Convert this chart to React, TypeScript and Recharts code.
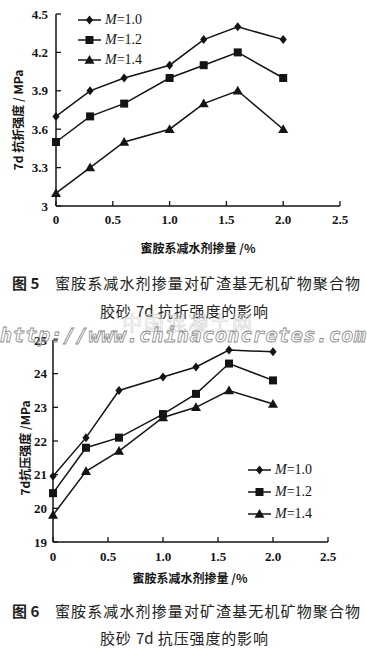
import React from "react";
import { LineChart, Line, XAxis, YAxis } from "recharts";

// dosage of melamine superplasticizer, %
const dosage = [0, 0.3, 0.6, 1.0, 1.3, 1.6, 2.0];

// Fig 5: 7d flexural strength, MPa
const flexM10 = [3.7, 3.9, 4.0, 4.1, 4.3, 4.4, 4.3];
const flexM12 = [3.5, 3.7, 3.8, 4.0, 4.1, 4.2, 4.0];
const flexM14 = [3.1, 3.3, 3.5, 3.6, 3.8, 3.9, 3.6];

// Fig 6: 7d compressive strength, MPa
const compM10 = [20.95, 22.1, 23.5, 23.9, 24.2, 24.7, 24.65];
const compM12 = [20.45, 21.8, 22.1, 22.8, 23.4, 24.3, 23.8];
const compM14 = [19.8, 21.1, 21.7, 22.7, 23.0, 23.5, 23.1];

const xTicks = [0, 0.5, 1.0, 1.5, 2.0, 2.5];
const flexTicks = [3, 3.3, 3.6, 3.9, 4.2, 4.5];
const compTicks = [19, 20, 21, 22, 23, 24, 25];
const seriesNames = ["1.0", "1.2", "1.4"];

const flexData = dosage.map((x, i) => ({ x, a: flexM10[i], b: flexM12[i], c: flexM14[i] }));
const compData = dosage.map((x, i) => ({ x, a: compM10[i], b: compM12[i], c: compM14[i] }));

const INK = "#141414";
const NUM_FONT = "'Liberation Serif', 'Times New Roman', serif";
const CJK_FONT = "'Noto Sans CJK SC', sans-serif";

const fmtX = (v: number) => (v === 0 ? "0" : v.toFixed(1));
const fmtFlex = (v: number) => (v === 3 ? "3" : v.toFixed(1));
const fmtComp = (v: number) => String(v);

// marker shapes
const Marker = ({ kind, cx, cy }: { kind: number; cx: number; cy: number }) => {
  if (kind === 0) {
    const r = 4.5;
    return <path d={`M${cx},${cy - r}L${cx + r * 0.8},${cy}L${cx},${cy + r}L${cx - r * 0.8},${cy}Z`} fill={INK} />;
  }
  if (kind === 1) {
    const s = 4;
    return <rect x={cx - s} y={cy - s} width={s * 2} height={s * 2} fill={INK} />;
  }
  const t = 5;
  return <path d={`M${cx},${cy - t}L${cx + t},${cy + t * 0.75}L${cx - t},${cy + t * 0.75}Z`} fill={INK} />;
};

const dotFor = (kind: number) => (p: any) =>
  <Marker key={`m-${kind}-${p.index}`} kind={kind} cx={p.cx} cy={p.cy} />;

const makeXTick = (m: number, fmt: (v: number) => string) => (p: any) => (
  <g key={`xt-${p.payload.value}`}>
    <line x1={p.x} x2={p.x} y1={p.y - m} y2={p.y - m - 5} stroke={INK} strokeWidth={1.3} />
    <text x={p.x} y={p.y} dy="0.71em" textAnchor="middle" fontFamily={NUM_FONT} fontSize={13} fontWeight={700} fill={INK}>
      {fmt(p.payload.value)}
    </text>
  </g>
);

const makeYTick = (m: number, fmt: (v: number) => string) => (p: any) => (
  <g key={`yt-${p.payload.value}`}>
    <line x1={p.x + m} x2={p.x + m + 5} y1={p.y} y2={p.y} stroke={INK} strokeWidth={1.3} />
    <text x={p.x} y={p.y} dy="0.35em" textAnchor="end" fontFamily={NUM_FONT} fontSize={13} fontWeight={700} fill={INK}>
      {fmt(p.payload.value)}
    </text>
  </g>
);

const legendBox = (left: number, top: number, rowH: number) => (
  <div style={{ position: "absolute", left, top }}>
    {seriesNames.map((n, i) => (
      <div key={n} style={{ display: "flex", alignItems: "center", height: rowH }}>
        <svg width={24} height={12} style={{ display: "block" }}>
          <line x1={0} x2={23} y1={6} y2={6} stroke={INK} strokeWidth={1.5} />
          <Marker kind={i} cx={11.5} cy={6} />
        </svg>
        <span style={{ marginLeft: 3, fontFamily: NUM_FONT, fontSize: 14, color: INK, whiteSpace: "pre" }}>
          <i>M</i>={n}
        </span>
      </div>
    ))}
  </div>
);

const yTitle = (text: string, cx: number, cy: number) => (
  <div
    style={{
      position: "absolute",
      left: cx - 70,
      top: cy - 8,
      width: 140,
      height: 16,
      lineHeight: "16px",
      textAlign: "center",
      transform: "rotate(-90deg)",
      fontFamily: CJK_FONT,
      fontSize: 12,
      fontWeight: 700,
      color: INK,
      whiteSpace: "pre",
    }}
  >
    {text}
  </div>
);

const xTitle = (text: string, cx: number, cy: number) => (
  <div
    style={{
      position: "absolute",
      left: cx - 80,
      top: cy - 8,
      width: 160,
      height: 16,
      lineHeight: "16px",
      textAlign: "center",
      fontFamily: CJK_FONT,
      fontSize: 12,
      fontWeight: 700,
      color: INK,
      whiteSpace: "pre",
    }}
  >
    {text}
  </div>
);

const capLine = (text: string, left: number, width: number, cy: number, bold = false) => (
  <div
    style={{
      position: "absolute",
      left,
      width,
      top: cy - 11,
      height: 22,
      lineHeight: "22px",
      fontFamily: CJK_FONT,
      fontSize: 15,
      fontWeight: bold ? 700 : 400,
      color: "#222",
      whiteSpace: "nowrap",
      textAlign: "justify",
      textAlignLast: "justify",
      textJustify: "inter-character",
    } as React.CSSProperties}
  >
    {text}
  </div>
);

const caption = (num: string, line2: string, cy1: number, cy2: number) => (
  <>
    {capLine(`图 ${num}`, 12, 24, cy1, true)}
    {capLine("蜜胺系减水剂掺量对矿渣基无机矿物聚合物", 55, 305, cy1)}
    {capLine(line2, 100, 168, cy2)}
  </>
);

const series = (kind: number, key: string) => (
  <Line
    key={key}
    dataKey={key}
    type="linear"
    stroke={INK}
    strokeWidth={1.5}
    dot={dotFor(kind)}
    activeDot={false}
    isAnimationActive={false}
  />
);

export default function App() {
  return (
    <div style={{ position: "absolute", left: 0, top: 0, width: 367, height: 650, background: "#fff", overflow: "hidden" }}>
      {/* Fig 5 */}
      <div style={{ position: "absolute", left: 0, top: 0 }}>
        <LineChart width={367} height={262} data={flexData} margin={{ top: 14, right: 27, left: 0, bottom: 0 }}>
          <XAxis
            dataKey="x"
            type="number"
            domain={[0, 2.5]}
            ticks={xTicks}
            height={56}
            axisLine={{ stroke: INK, strokeWidth: 1.5 }}
            tickLine={false}
            tickSize={0}
            tickMargin={9}
            tick={makeXTick(9, fmtX)}
            interval={0}
          />
          <YAxis
            type="number"
            domain={[3, 4.5]}
            ticks={flexTicks}
            width={56}
            axisLine={{ stroke: INK, strokeWidth: 1.5 }}
            tickLine={false}
            tickSize={0}
            tickMargin={8}
            tick={makeYTick(8, fmtFlex)}
            interval={0}
          />
          {series(0, "a")}
          {series(1, "b")}
          {series(2, "c")}
        </LineChart>
      </div>
      {legendBox(78, 10, 20)}
      {yTitle("7d 抗折强度 / MPa", 18, 120)}
      {xTitle("蜜胺系减水剂掺量 /%", 198, 248)}
      {caption("5", "胶砂 7d 抗折强度的影响", 283, 311)}

      {/* watermark */}
      <div
        style={{
          position: "absolute",
          left: 122,
          top: 308,
          fontFamily: CJK_FONT,
          fontSize: 20,
          letterSpacing: 2,
          color: "transparent",
          WebkitTextStroke: "0.6px #d0d0d0",
          whiteSpace: "pre",
        }}
      >
        中国混凝土网
      </div>

      {/* Fig 6 */}
      <div style={{ position: "absolute", left: 0, top: 320 }}>
        <LineChart width={367} height={270} data={compData} margin={{ top: 20, right: 39, left: 0, bottom: 0 }}>
          <XAxis
            dataKey="x"
            type="number"
            domain={[0, 2.5]}
            ticks={xTicks}
            height={48}
            axisLine={{ stroke: INK, strokeWidth: 1.5 }}
            tickLine={false}
            tickSize={0}
            tickMargin={10}
            tick={makeXTick(10, fmtX)}
            interval={0}
          />
          <YAxis
            type="number"
            domain={[19, 25]}
            ticks={compTicks}
            width={53}
            axisLine={{ stroke: INK, strokeWidth: 1.5 }}
            tickLine={false}
            tickSize={0}
            tickMargin={6}
            tick={makeYTick(6, fmtComp)}
            interval={0}
          />
          {series(0, "a")}
          {series(1, "b")}
          {series(2, "c")}
        </LineChart>
      </div>
      {legendBox(248, 459, 22)}
      {yTitle("7d抗压强度 /MPa", 25, 448)}
      {xTitle("蜜胺系减水剂掺量 /%", 190, 578)}
      {caption("6", "胶砂 7d 抗压强度的影响", 611, 638)}

      <div
        style={{
          position: "absolute",
          left: 0,
          top: 323,
          width: 367,
          fontFamily: "'DejaVu Sans Mono', monospace",
          fontSize: 20,
          fontStyle: "italic",
          fontWeight: 700,
          letterSpacing: 0.6,
          color: "transparent",
          WebkitTextStroke: "0.8px #8a8a8a",
          whiteSpace: "pre",
        }}
      >
        http://www.chinaconcretes.com
      </div>
    </div>
  );
}
